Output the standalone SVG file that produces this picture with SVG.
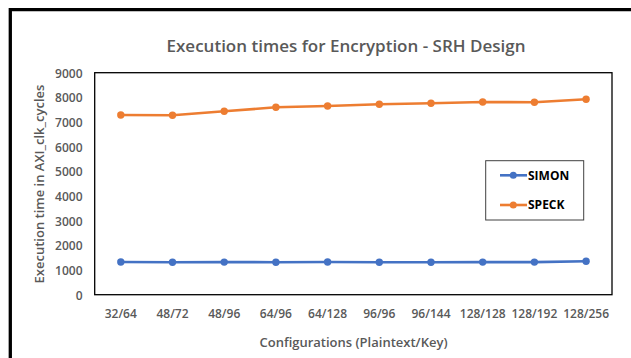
<svg xmlns="http://www.w3.org/2000/svg" width="631" height="358" viewBox="0 0 631 358">
<style>
.t{font-family:"Open Sans","Liberation Sans",sans-serif;fill:#595959;font-weight:600}
.tick{font-size:12px}
.xl{font-size:12px;text-anchor:middle}
.yl{text-anchor:end}
.leg{font-family:"Open Sans","Liberation Sans",sans-serif;font-weight:700;font-size:12px;fill:#000}
.simon{stroke:#4472C4;stroke-width:2.6;fill:none;stroke-linejoin:round}
.speck{stroke:#ED7D31;stroke-width:2.6;fill:none;stroke-linejoin:round}
.ms{fill:#4472C4}
.mp{fill:#ED7D31}
</style>
<rect width="631" height="358" fill="#fff"/>
<path d="M10.3 358 V9.6 H631" fill="none" stroke="#000" stroke-width="3.3"/>
<g id="title"><text class="t" x="346" y="51.5" font-size="17" text-anchor="middle">Execution times for Encryption - SRH Design</text></g>
<g id="plot-area"><rect x="94.7" y="72.7" width="517.3" height="222" fill="none" stroke="#000" stroke-width="1.3"/></g>
<g id="y-axis" class="t tick yl">
<text x="82.5" y="299.5">0</text>
<text x="82.5" y="274.8">1000</text>
<text x="82.5" y="250.2">2000</text>
<text x="82.5" y="225.5">3000</text>
<text x="82.5" y="200.8">4000</text>
<text x="82.5" y="176.2">5000</text>
<text x="82.5" y="151.5">6000</text>
<text x="82.5" y="126.8">7000</text>
<text x="82.5" y="102.2">8000</text>
<text x="82.5" y="77.5">9000</text>
</g>
<g id="x-axis" class="t xl">
<text x="120.8" y="318">32/64</text>
<text x="172.5" y="318">48/72</text>
<text x="224.2" y="318">48/96</text>
<text x="275.9" y="318">64/96</text>
<text x="327.6" y="318">64/128</text>
<text x="379.3" y="318">96/96</text>
<text x="431" y="318">96/144</text>
<text x="482.7" y="318">128/128</text>
<text x="534.4" y="318">128/192</text>
<text x="586.1" y="318">128/256</text>
</g>
<g id="x-title"><text class="t" x="353.5" y="346.7" font-size="13" text-anchor="middle">Configurations (Plaintext/Key)</text></g>
<g id="y-title"><text class="t" transform="translate(43.5 184) rotate(-90)" font-size="13" text-anchor="middle">Execution time in AXI_clk_cycles</text></g>
<g id="connectors">
<polyline id="series-simon" class="simon" points="120.8,262 172.5,262.2 224.2,262.1 275.9,262.2 327.6,262 379.3,262.2 431,262.2 482.7,262.1 534.4,262.1 586.1,261.2"/>
<polyline id="series-speck" class="speck" points="120.8,115 172.5,115.3 224.2,111.3 275.9,107.3 327.6,106 379.3,104.3 431,103.3 482.7,102 534.4,102.3 586.1,99.3"/>
</g>
<g id="markers-simon" class="ms">
<circle cx="120.8" cy="262" r="3.7"/><circle cx="172.5" cy="262.2" r="3.7"/><circle cx="224.2" cy="262.1" r="3.7"/><circle cx="275.9" cy="262.2" r="3.7"/><circle cx="327.6" cy="262" r="3.7"/><circle cx="379.3" cy="262.2" r="3.7"/><circle cx="431" cy="262.2" r="3.7"/><circle cx="482.7" cy="262.1" r="3.7"/><circle cx="534.4" cy="262.1" r="3.7"/><circle cx="586.1" cy="261.2" r="3.7"/>
</g>
<g id="markers-speck" class="mp">
<circle cx="120.8" cy="115" r="3.7"/><circle cx="172.5" cy="115.3" r="3.7"/><circle cx="224.2" cy="111.3" r="3.7"/><circle cx="275.9" cy="107.3" r="3.7"/><circle cx="327.6" cy="106" r="3.7"/><circle cx="379.3" cy="104.3" r="3.7"/><circle cx="431" cy="103.3" r="3.7"/><circle cx="482.7" cy="102" r="3.7"/><circle cx="534.4" cy="102.3" r="3.7"/><circle cx="586.1" cy="99.3" r="3.7"/>
</g>
<g id="legend">
<rect x="485.7" y="160.7" width="98" height="59.3" fill="#fff" stroke="#404040" stroke-width="1"/>
<line x1="500" y1="175.3" x2="527" y2="175.3" class="simon"/>
<circle cx="513.3" cy="175.3" r="3.5" class="ms"/>
<text class="leg" x="528" y="179.6">SIMON</text>
<line x1="500" y1="205" x2="527" y2="205" class="speck"/>
<circle cx="513.3" cy="205" r="3.5" class="mp"/>
<text class="leg" x="528" y="209.3">SPECK</text>
</g>
</svg>
